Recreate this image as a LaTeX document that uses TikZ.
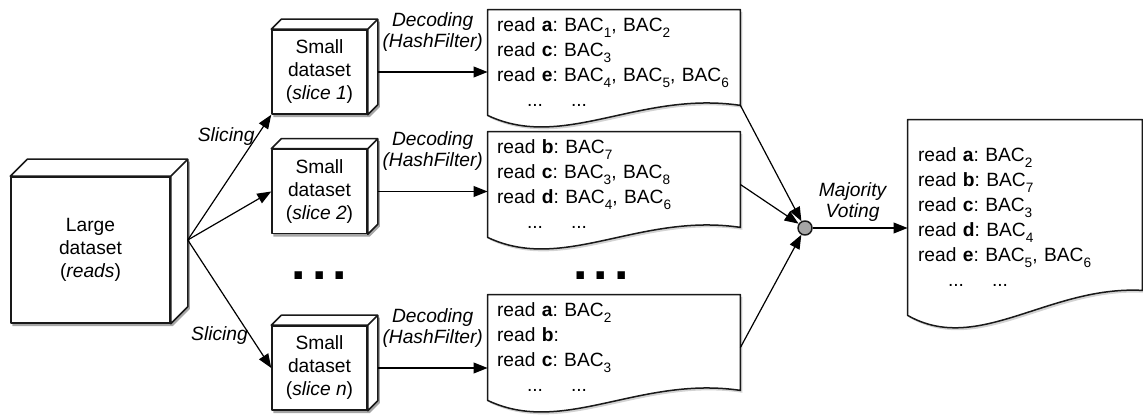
\documentclass[tikz,border=0pt]{standalone}
\usepackage{fontspec}
\setmainfont{Liberation Sans}
\usetikzlibrary{arrows.meta, positioning, calc, backgrounds, shadows}
\frenchspacing

% one line of a decoded table
\newcommand{\rd}[1]{read \textbf{#1}}
\newcommand{\bac}[1]{BAC\raisebox{-0.5ex}{\fontsize{6.8}{6.8}\selectfont#1}}

\tikzset{
  pl/edge/.style={draw=black!90, line width=0.75pt, line join=round},
  pl/cube/.style={rectangle, pl/edge, fill=white, align=center,
    font=\fontsize{9.6}{11.5}\selectfont, inner sep=1pt},
  pl/big/.style={pl/cube, minimum width=79.5pt, minimum height=73pt},
  pl/small/.style={pl/cube, minimum width=47.5pt, minimum height=42pt},
  pl/doc/.style={rectangle, inner xsep=4.5pt, inner ysep=0pt, align=left,
    text width=117pt, minimum height=52.5pt,
    font=\fontsize{9.6}{12.5}\selectfont},
  pl/paper/.style={pl/edge, fill=white,
    drop shadow={opacity=0.35, shadow xshift=1pt, shadow yshift=-1.2pt}},
  pl/shade/.style={fill=black!35, transform canvas={xshift=1pt, yshift=-1.2pt}},
  pl/vote/.style={circle, pl/edge, fill=black!35, minimum size=7pt, inner sep=0pt},
  pl/arr/.style={-{Triangle[length=7pt, width=5.4pt]}, line width=0.6pt},
  pl/lbl/.style={font=\fontsize{9.6}{10.5}\selectfont\itshape, align=center,
    inner sep=1pt},
  pl/dots/.style={font=\fontsize{26}{26}\selectfont\bfseries, inner sep=0pt,
    anchor=base}
}

% top and side faces of a box, depth in picture units
\newcommand{\cubefaces}[2]{%
  \draw[pl/edge, fill=white] (#1.north west) -- ++(#2,#2)
    -| ($(#1.south east)+(#2,#2)$) -- (#1.south east) -- (#1.north east) -- cycle
    (#1.north east) -- ++(#2,#2);
  \begin{pgfonlayer}{background}
    \fill[pl/shade] (#1.south west) -- (#1.north west) -- ++(#2,#2)
      -| ($(#1.south east)+(#2,#2)$) -- (#1.south east) -- cycle;
  \end{pgfonlayer}
}

% sheet with a wavy bottom edge: rise of right corner, dip, hump
\newcommand{\paperoutline}[4]{%
  \begin{pgfonlayer}{background}
    \path[pl/paper] (#1.north west) -- (#1.north east)
      -- ($(#1.south east)+(0,#2)$)
      .. controls ($(#1.south west)!0.6!(#1.south east)+(0,#4)$)
             and ($(#1.south west)!0.3!(#1.south east)+(0,#3)$) .. (#1.south west)
      -- cycle;
  \end{pgfonlayer}
}

\begin{document}
\begin{tikzpicture}[x=0.5pt, y=0.5pt]
  \useasboundingbox (0,0) rectangle (1143,417);

  % input and slices
  \node[pl/big] (big) at (90.5,167) {Large\\dataset\\(\textit{reads})};
  \cubefaces{big}{17}
  \node[pl/small] (s1) at (319.5,345) {Small\\dataset\\(\textit{slice 1})};
  \node[pl/small, below=17pt of s1] (s2) {Small\\dataset\\(\textit{slice 2})};
  \node[pl/small, below=45.5pt of s2] (s3) {Small\\dataset\\(\textit{slice n})};
  \foreach \s in {s1,s2,s3} {\cubefaces{\s}{10}}

  % decoded reads per slice
  \node[pl/doc] (docA) at (614,354.5) {\rd{a}: \bac{1}, \bac{2}\\
    \rd{c}: \bac{3}\\ \rd{e}: \bac{4}, \bac{5}, \bac{6}\\
    \hspace*{15pt}...\hspace{14pt}...};
  \node[pl/doc] (docB) at (614,232.5) {\rd{b}: \bac{7}\\
    \rd{c}: \bac{3}, \bac{8}\\ \rd{d}: \bac{4}, \bac{6}\\
    \hspace*{15pt}...\hspace{14pt}...};
  \node[pl/doc] (docC) at (614,69.5) {\rd{a}: \bac{2}\\
    \rd{b}:\\ \rd{c}: \bac{3}\\
    \hspace*{15pt}...\hspace{14pt}...};
  \foreach \d in {docA,docB,docC} {\paperoutline{\d}{10}{-36}{25}}

  % merged result
  \node[pl/doc, text width=107pt, inner xsep=5pt, minimum height=97.5pt]
    (final) at (1025,199.5) {\rd{a}: \bac{2}\\ \rd{b}: \bac{7}\\
    \rd{c}: \bac{3}\\ \rd{d}: \bac{4}\\ \rd{e}: \bac{5}, \bac{6}\\
    \hspace*{15pt}...\hspace{14pt}...};
  \paperoutline{final}{25}{-40}{30}

  \node[pl/vote] (vote) at (805,189) {};

  \node[pl/dots] (more1) at ($(s2)!0.5!(s3)$) {.\hspace{3pt}.\hspace{3pt}.};
  \node[pl/dots] (more2) at ([xshift=-6.5pt]more1.base -| docB)
    {.\hspace{3pt}.\hspace{3pt}.};

  % slicing
  \coordinate (fan) at ($(big.east)+(17,10)$);
  \draw[pl/arr] (fan) -- node[pl/lbl, left, pos=0.83] {Slicing} (s1.south west);
  \draw[pl/arr] (fan) -- (s2.west);
  \draw[pl/arr] (fan) -- node[pl/lbl, left, pos=0.75] {Slicing} (s3.west);

  % decoding
  \foreach \s/\d in {s1/docA, s2/docB, s3/docC}
    \draw[pl/arr] ([xshift=5pt]\s.east) --
      node[pl/lbl, above=9pt] {Decoding\\(HashFilter)} (\s.east -| \d.west);

  % voting
  \draw[pl/arr] ($(docA.south east)+(0,10)$) -- (vote);
  \draw[pl/arr] (docB.east) -- (vote);
  \draw[pl/arr] (docC.east) -- (vote);
  \draw[pl/arr] (vote) -- node[pl/lbl, above=2pt, pos=0.42] {Majority\\Voting}
    (vote -| final.west);
\end{tikzpicture}
\end{document}
